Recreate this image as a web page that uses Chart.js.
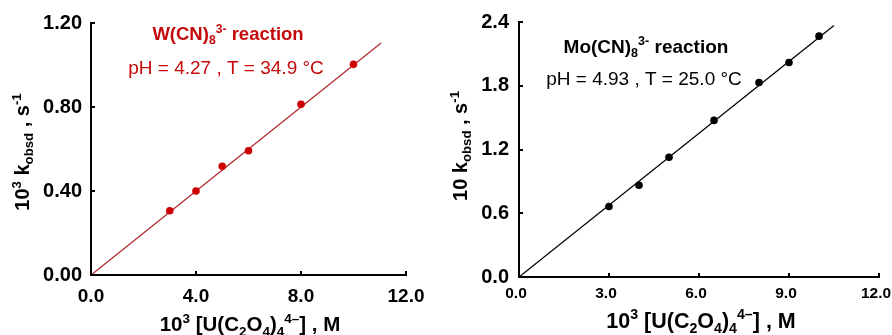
<!DOCTYPE html>
<html>
<head>
<meta charset="utf-8">
<script src="https://cdn.jsdelivr.net/npm/chart.js@4.4.0/dist/chart.umd.min.js"></script>
<style>
  html, body { margin: 0; padding: 0; background: #fff; }
  #wrap { position: relative; width: 892px; height: 335px; overflow: hidden; }
  .box { position: absolute; top: 0; width: 446px; height: 335px; }
</style>
</head>
<body>
<div id="wrap">
  <div class="box" style="left:0"><canvas id="chartW" width="446" height="335"></canvas></div>
  <div class="box" style="left:446px"><canvas id="chartMo" width="446" height="335"></canvas></div>
</div>
<script>
// W(CN)8 3- run : pH 4.27, 34.9 C
const wConc = [3, 4, 5, 6, 8, 10];
const wKobs = [0.306, 0.40, 0.518, 0.592, 0.813, 1.003];
const wFitX = [0, 11.05];
const wFitY = [0, 1.105];
const wXTicks = [0, 4, 8, 12];
const wYTicks = [0, 0.4, 0.8, 1.2];

// Mo(CN)8 3- run : pH 4.93, 25.0 C
const moConc = [3, 4, 5, 6.5, 8, 9, 10];
const moKobs = [0.664, 0.864, 1.127, 1.474, 1.831, 2.019, 2.267];
const moFitX = [0, 10.5];
const moFitY = [0, 2.366];
const moXTicks = [0, 3, 6, 9, 12];
const moYTicks = [0, 0.6, 1.2, 1.8, 2.4];

const FAMILY = '"Liberation Sans", Arial, sans-serif';

// draws text made of pieces, some of them sub/superscript, centred on x
function drawRich(ctx, parts, x, y, size, bold, color, angle) {
  const font = s => (bold ? 'bold ' : '') + s + 'px ' + FAMILY;
  ctx.save();
  ctx.translate(x, y);
  if (angle) ctx.rotate(angle);
  ctx.fillStyle = color;
  ctx.textBaseline = 'alphabetic';
  ctx.textAlign = 'left';
  let total = 0;
  parts.forEach(p => {
    ctx.font = font(p[1] ? size * 0.66 : size);
    total += ctx.measureText(p[0]).width;
  });
  let cx = -total / 2;
  parts.forEach(p => {
    ctx.font = font(p[1] ? size * 0.66 : size);
    const dy = p[1] === 'sup' ? -size * 0.4 : p[1] === 'sub' ? size * 0.22 : 0;
    ctx.fillText(p[0], cx, dy);
    cx += ctx.measureText(p[0]).width;
  });
  ctx.restore();
}

// small inward tick marks + the text pieces
const decor = {
  id: 'decor',
  afterDraw(chart, args, o) {
    const ctx = chart.ctx;
    const xs = chart.scales.x, ys = chart.scales.y;
    const a = chart.chartArea;
    ctx.save();
    ctx.strokeStyle = '#000';
    ctx.lineWidth = 2;
    ctx.beginPath();
    xs.ticks.forEach(t => {
      const px = Math.round(xs.getPixelForValue(t.value));
      ctx.moveTo(px, a.bottom);
      ctx.lineTo(px, a.bottom - 4);
    });
    ys.ticks.forEach(t => {
      const py = Math.round(ys.getPixelForValue(t.value));
      ctx.moveTo(a.left, py);
      ctx.lineTo(a.left + 4, py);
    });
    ctx.stroke();
    ctx.restore();
    o.texts.forEach(t => drawRich(ctx, t.parts, t.x, t.y, t.size, t.bold, t.color, t.angle));
  }
};

function buildChart(id, o) {
  return new Chart(document.getElementById(id), {
    type: 'scatter',
    data: {
      datasets: [
        {
          data: o.fitX.map((x, i) => ({ x: x, y: o.fitY[i] })),
          showLine: true,
          borderColor: o.lineColor,
          borderWidth: 1.3,
          pointRadius: 0,
          order: 2
        },
        {
          data: o.x.map((x, i) => ({ x: x, y: o.y[i] })),
          backgroundColor: o.dotColor,
          borderWidth: 0,
          pointRadius: 3.8,
          order: 1
        }
      ]
    },
    options: {
      responsive: false,
      animation: false,
      layout: { padding: { top: o.top, right: o.right, left: 0, bottom: 0 } },
      plugins: { legend: { display: false }, tooltip: { enabled: false }, decor: { texts: o.texts } },
      scales: {
        x: {
          type: 'linear',
          min: o.xTicks[0],
          max: o.xTicks[o.xTicks.length - 1],
          afterBuildTicks: s => { s.ticks = o.xTicks.map(v => ({ value: v })); },
          afterFit: s => { s.height = o.xh; s.paddingLeft = 0; s.paddingRight = 0; },
          grid: { display: false, drawTicks: false },
          border: { display: true, color: '#000', width: 2 },
          ticks: {
            color: '#000',
            padding: o.xPad,
            labelOffset: o.xShift,
            maxRotation: 0,
            font: { family: FAMILY, size: o.xFont, weight: 'bold' },
            callback: v => Number(v).toFixed(1)
          }
        },
        y: {
          type: 'linear',
          min: o.yTicks[0],
          max: o.yTicks[o.yTicks.length - 1],
          afterBuildTicks: s => { s.ticks = o.yTicks.map(v => ({ value: v })); },
          afterFit: s => { s.width = o.yw; s.paddingTop = 0; s.paddingBottom = 0; },
          grid: { display: false, drawTicks: false },
          border: { display: true, color: '#000', width: 2 },
          ticks: {
            color: '#000',
            padding: o.yPad,
            font: { family: FAMILY, size: 20, weight: 'bold' },
            callback: v => Number(v).toFixed(o.yDec)
          }
        }
      }
    },
    plugins: [decor]
  });
}

const RED = '#c40a0a';
const xTitle = [['10'], ['3', 'sup'], [' [U(C'], ['2', 'sub'], ['O'], ['4', 'sub'], [')'], ['4', 'sub'], ['4\u2013', 'sup'], ['] , M']];

buildChart('chartW', {
  x: wConc, y: wKobs, fitX: wFitX, fitY: wFitY, xTicks: wXTicks, yTicks: wYTicks,
  lineColor: '#b0262e', dotColor: '#cc0000',
  top: 23, right: 40, xh: 60, yw: 91, xPad: 10, yPad: 9, xFont: 19, xShift: 0, yDec: 2,
  texts: [
    { parts: [['W(CN)'], ['8', 'sub'], ['3-', 'sup'], [' reaction']], x: 228, y: 40, size: 18.5, bold: true, color: RED },
    { parts: [['pH = 4.27 , T = 34.9 \u00b0C']], x: 226, y: 74, size: 19, bold: false, color: RED },
    { parts: xTitle, x: 250, y: 331, size: 20.5, bold: true, color: '#000' },
    { parts: [['10'], ['3', 'sup'], [' k'], ['obsd', 'sub'], [' , s'], ['-1', 'sup']], x: 29, y: 152, size: 20, bold: true, color: '#000', angle: -Math.PI / 2 }
  ]
});

buildChart('chartMo', {
  x: moConc, y: moKobs, fitX: moFitX, fitY: moFitY, xTicks: moXTicks, yTicks: moYTicks,
  lineColor: '#000', dotColor: '#000',
  top: 22, right: 13, xh: 58, yw: 73, xPad: 7, yPad: 10, xFont: 15.5, xShift: -3, yDec: 1,
  texts: [
    { parts: [['Mo(CN)'], ['8', 'sub'], ['3-', 'sup'], [' reaction']], x: 200, y: 53, size: 19, bold: true, color: '#000' },
    { parts: [['pH = 4.93 , T = 25.0 \u00b0C']], x: 198, y: 85, size: 19, bold: false, color: '#000' },
    { parts: xTitle, x: 255, y: 328, size: 21.5, bold: true, color: '#000' },
    { parts: [['10 k'], ['obsd', 'sub'], [' , s'], ['-1', 'sup']], x: 21, y: 146, size: 20, bold: true, color: '#000', angle: -Math.PI / 2 }
  ]
});
</script>
</body>
</html>
